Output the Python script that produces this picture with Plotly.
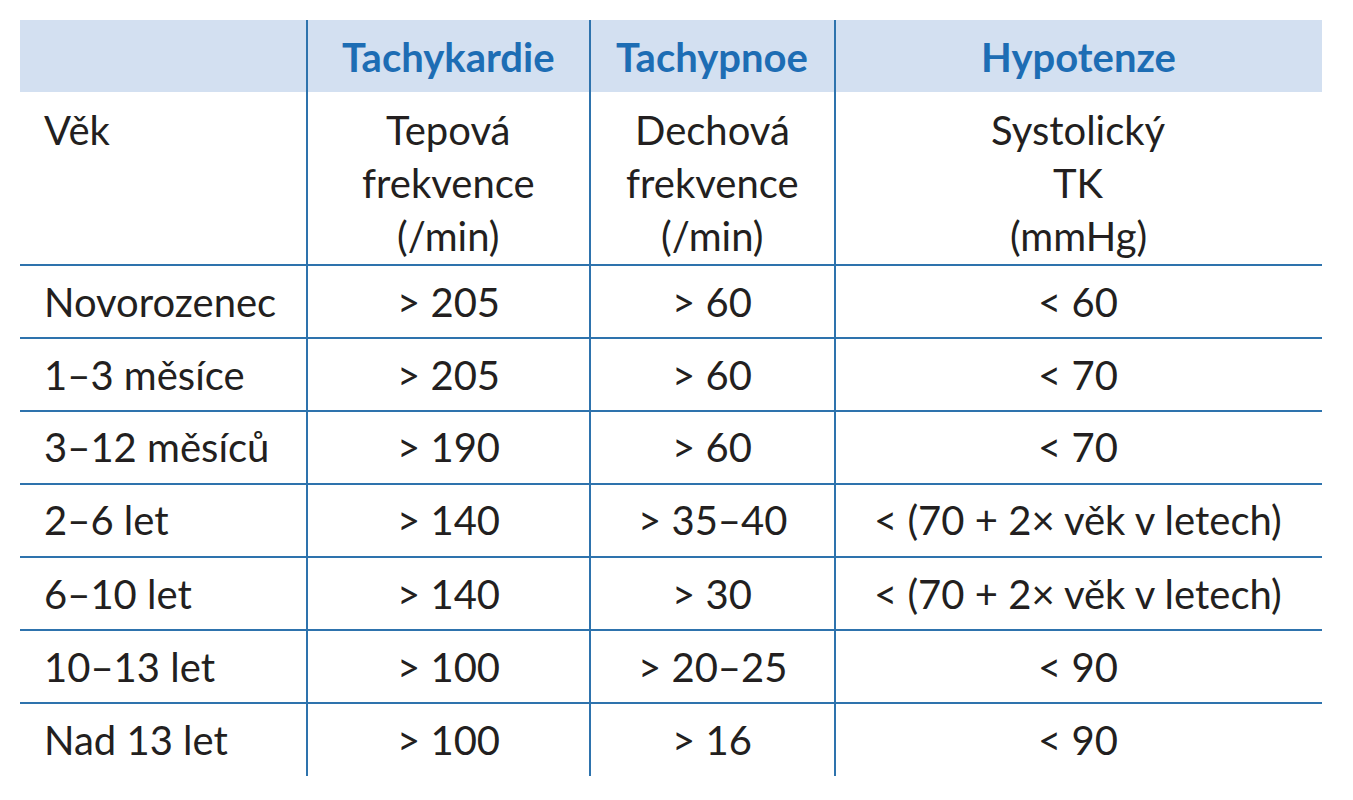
import plotly.graph_objects as go

headers = ["", "Tachykardie", "Tachypnoe", "Hypotenze"]
subheaders = [["Věk"], ["Tepová", "frekvence", "(/min)"], ["Dechová", "frekvence", "(/min)"], ["Systolický", "TK", "(mmHg)"]]
ages = ["Novorozenec", "1–3 měsíce", "3–12 měsíců", "2–6 let", "6–10 let", "10–13 let", "Nad 13 let"]
heart = ["> 205", "> 205", "> 190", "> 140", "> 140", "> 100", "> 100"]
breath = ["> 60", "> 60", "> 60", "> 35–40", "> 30", "> 20–25", "> 16"]
bp = ["< 60", "< 70", "< 70", "< (70 + 2× věk v letech)", "< (70 + 2× věk v letech)", "< 90", "< 90"]

W, H = 1353, 800
OFF = 8
col_edges = [20, 307, 590, 835, 1322]
col_centers = [42, 448, 712, 1078]
row_lines = [265, 338, 411, 484, 557, 630, 703]
row_centers = [302, 375, 447, 520, 594, 667, 740]
LINE = "#2e73ad"
FONT = "Lato"

fig = go.Figure()
fig.add_trace(go.Scatter(x=[0, W], y=[0, H], mode="markers", marker=dict(opacity=0), hoverinfo="skip", showlegend=False))
shapes = [dict(type="rect", x0=20, x1=1322, y0=20, y1=92, fillcolor="#d3e0f1", line=dict(width=0), layer="below")]
for x in col_edges[1:-1]:
    shapes.append(dict(type="line", x0=x, x1=x, y0=20, y1=776, line=dict(color=LINE, width=2)))
for y in row_lines:
    shapes.append(dict(type="line", x0=20, x1=1322, y0=y, y1=y, line=dict(color=LINE, width=2)))
ann = []
for i, h in enumerate(headers):
    if h:
        ann.append(dict(x=col_centers[i], y=57, text="<b>%s</b>" % h, showarrow=False,
                        font=dict(family=FONT, size=40, color="#1d6db4")))
for i, lines in enumerate(subheaders):
    for j, t in enumerate(lines):
        ann.append(dict(x=col_centers[i], y=130 + 53 * j, text=t, showarrow=False,
                        xanchor="left" if i == 0 else "center",
                        font=dict(family=FONT, size=40, color="#231f20")))
cols = [ages, heart, breath, bp]
for i, col in enumerate(cols):
    for r, t in enumerate(col):
        ann.append(dict(x=col_centers[i], y=row_centers[r], text=t, showarrow=False,
                        xanchor="left" if i == 0 else "center",
                        font=dict(family=FONT, size=40, color="#231f20")))
fig.update_layout(width=W, height=H, margin=dict(l=0, r=0, t=0, b=0),
                  plot_bgcolor="white", paper_bgcolor="white", shapes=shapes, annotations=ann,
                  xaxis=dict(range=[OFF, W + OFF], visible=False, fixedrange=True),
                  yaxis=dict(range=[H + OFF, OFF], visible=False, fixedrange=True))
fig.write_html("out.html", config={"displayModeBar": False})
